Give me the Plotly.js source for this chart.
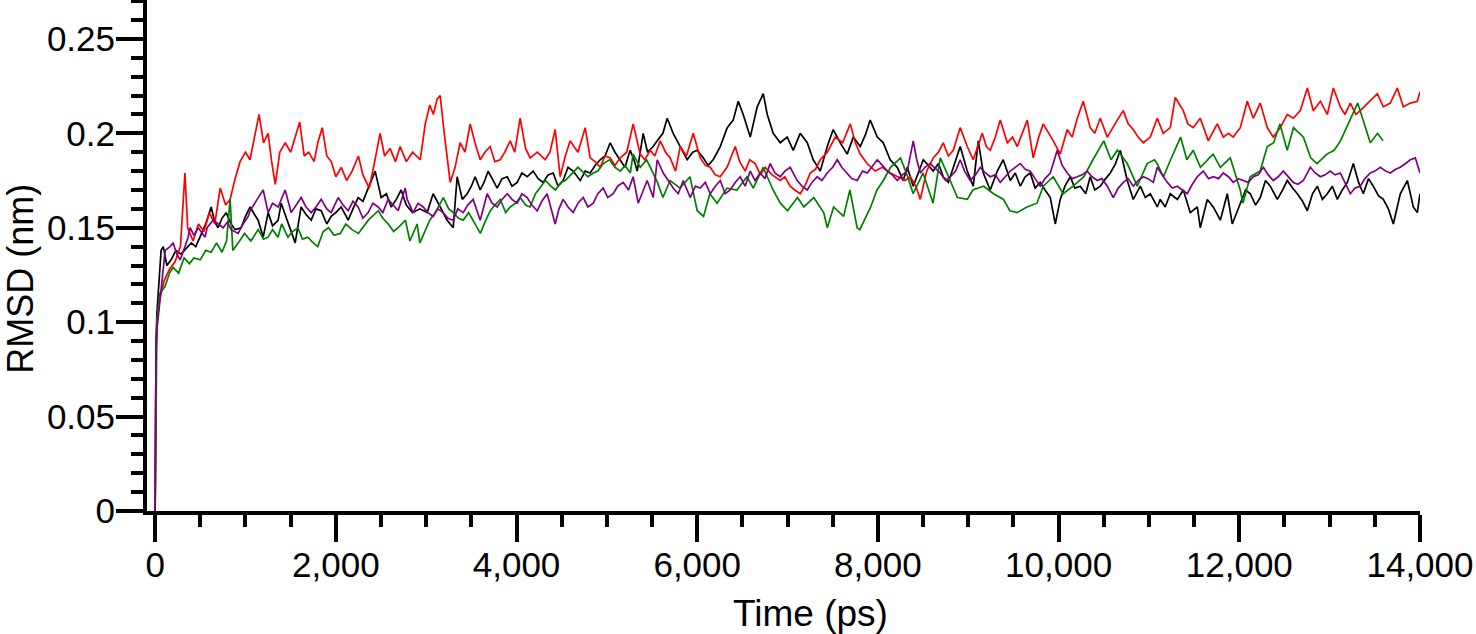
<!DOCTYPE html>
<html>
<head>
<meta charset="utf-8">
<script src="https://cdn.plot.ly/plotly-3.0.1.min.js"></script>
<style>html,body{margin:0;padding:0;background:#fff}#chart{width:1476px;height:634px}</style>
</head>
<body>
<div id="chart"></div>
<script>
const xTickVals = [0, 2000, 4000, 6000, 8000, 10000, 12000, 14000];
const yTickVals = [0, 0.05, 0.1, 0.15, 0.2, 0.25];

const tBlack = [0,10,20,40,66,90,130,177,230,288,340,399,450,509,560,620,660,697,740,786,840,886,952,1000,1052,1100,1140,1196,1251,1300,1362,1395,1472,1550,1616,1670,1727,1780,1838,1900,1948,2000,2059,2137,2190,2247,2300,2358,2435,2502,2560,2613,2670,2723,2780,2850,2930,3011,3077,3155,3232,3299,3343,3400,3454,3500,3542,3598,3640,3686,3740,3786,3840,3897,3950,4007,4060,4118,4184,4240,4295,4350,4406,4460,4516,4570,4627,4705,4760,4815,4870,4926,4980,5037,5090,5148,5200,5258,5300,5336,5402,5450,5513,5557,5620,5668,5734,5812,5889,5950,6000,6066,6120,6177,6255,6332,6398,6454,6509,6587,6664,6731,6775,6841,6919,6996,7063,7140,7218,7284,7362,7439,7505,7583,7660,7727,7804,7860,7915,7993,8059,8136,8214,8280,8325,8391,8450,8502,8560,8612,8670,8723,8780,8834,8911,8989,9055,9111,9166,9243,9321,9387,9465,9520,9576,9630,9686,9740,9797,9850,9908,9963,10018,10070,10129,10180,10240,10300,10350,10400,10461,10520,10572,10630,10683,10760,10826,10904,10960,11015,11092,11125,11180,11236,11314,11380,11457,11535,11568,11646,11712,11790,11867,11922,12011,12070,12121,12180,12232,12290,12343,12421,12480,12531,12590,12642,12700,12753,12810,12864,12920,12974,13030,13085,13140,13196,13262,13320,13373,13430,13483,13540,13594,13650,13705,13782,13860,13926,13970,14000];
const vBlack = [0,0.09,0.105,0.12,0.138,0.14,0.13,0.133,0.138,0.136,0.139,0.142,0.14,0.147,0.152,0.161,0.153,0.15,0.155,0.158,0.152,0.149,0.15,0.156,0.161,0.157,0.154,0.145,0.158,0.151,0.154,0.163,0.152,0.142,0.161,0.157,0.154,0.16,0.159,0.152,0.156,0.158,0.161,0.154,0.16,0.166,0.164,0.171,0.18,0.166,0.168,0.161,0.165,0.17,0.162,0.158,0.16,0.158,0.168,0.161,0.154,0.15,0.177,0.165,0.168,0.172,0.177,0.17,0.174,0.18,0.175,0.171,0.176,0.177,0.172,0.174,0.179,0.177,0.18,0.176,0.174,0.178,0.179,0.172,0.175,0.182,0.18,0.175,0.18,0.179,0.183,0.186,0.188,0.195,0.19,0.186,0.182,0.191,0.186,0.18,0.2,0.19,0.193,0.196,0.2,0.208,0.2,0.193,0.186,0.19,0.191,0.187,0.183,0.186,0.193,0.203,0.207,0.217,0.21,0.198,0.214,0.221,0.21,0.2,0.195,0.198,0.191,0.2,0.195,0.186,0.18,0.193,0.202,0.195,0.189,0.198,0.193,0.199,0.207,0.198,0.195,0.186,0.182,0.175,0.182,0.172,0.179,0.186,0.183,0.18,0.184,0.177,0.174,0.182,0.193,0.18,0.172,0.196,0.179,0.17,0.18,0.186,0.175,0.179,0.172,0.177,0.179,0.171,0.174,0.17,0.166,0.152,0.165,0.172,0.177,0.171,0.172,0.168,0.177,0.17,0.172,0.176,0.179,0.184,0.191,0.175,0.165,0.172,0.166,0.168,0.161,0.165,0.161,0.168,0.165,0.17,0.158,0.161,0.15,0.165,0.161,0.154,0.168,0.152,0.163,0.17,0.168,0.162,0.166,0.175,0.172,0.165,0.17,0.175,0.171,0.168,0.164,0.159,0.168,0.172,0.165,0.168,0.172,0.165,0.17,0.174,0.184,0.174,0.168,0.176,0.172,0.167,0.165,0.16,0.152,0.168,0.175,0.161,0.158,0.168];

const tRed = [0,10,20,50,100,160,220,280,330,360,420,480,540,600,660,720,780,830,880,940,1000,1050,1100,1150,1200,1250,1290,1330,1380,1440,1500,1560,1600,1650,1700,1760,1800,1850,1900,1950,2000,2060,2120,2180,2250,2300,2370,2430,2490,2540,2600,2660,2712,2780,2850,2934,2990,3040,3080,3120,3155,3200,3266,3320,3376,3430,3487,3540,3598,3650,3708,3760,3819,3870,3930,3980,4040,4100,4151,4230,4317,4370,4428,4483,4540,4594,4680,4760,4815,4870,4926,4980,5037,5090,5148,5220,5291,5369,5420,5480,5530,5591,5650,5701,5760,5812,5880,5956,6033,6090,6144,6200,6255,6330,6421,6470,6531,6580,6642,6700,6753,6830,6919,6970,7029,7080,7140,7200,7251,7310,7362,7440,7528,7610,7694,7750,7804,7880,7970,8050,8136,8220,8302,8358,8420,8469,8540,8612,8670,8723,8780,8834,8911,8989,9055,9155,9200,9243,9300,9354,9432,9490,9542,9653,9719,9780,9830,9941,10018,10096,10150,10207,10273,10350,10400,10461,10539,10649,10716,10770,10826,10880,10937,11015,11092,11158,11236,11291,11380,11430,11490,11568,11657,11700,11756,11823,11880,11933,12011,12088,12155,12232,12310,12376,12454,12531,12598,12675,12753,12819,12897,12974,13041,13118,13170,13229,13290,13339,13400,13450,13528,13594,13671,13749,13815,13893,13970,14000];
const vRed = [0,0.085,0.1,0.112,0.122,0.128,0.132,0.14,0.179,0.15,0.143,0.152,0.148,0.158,0.152,0.171,0.162,0.165,0.175,0.185,0.19,0.186,0.198,0.21,0.195,0.2,0.185,0.173,0.19,0.195,0.19,0.2,0.206,0.188,0.19,0.185,0.195,0.203,0.188,0.185,0.177,0.182,0.175,0.18,0.188,0.178,0.171,0.185,0.2,0.188,0.192,0.185,0.193,0.185,0.19,0.186,0.205,0.215,0.21,0.218,0.22,0.2,0.174,0.182,0.195,0.19,0.205,0.195,0.186,0.19,0.193,0.185,0.186,0.19,0.196,0.19,0.208,0.192,0.187,0.19,0.186,0.19,0.202,0.177,0.188,0.196,0.19,0.203,0.187,0.185,0.182,0.188,0.187,0.183,0.187,0.19,0.205,0.189,0.186,0.191,0.188,0.196,0.19,0.187,0.18,0.193,0.188,0.2,0.187,0.183,0.182,0.178,0.177,0.182,0.193,0.185,0.18,0.186,0.184,0.178,0.182,0.178,0.175,0.177,0.172,0.17,0.168,0.173,0.179,0.181,0.186,0.19,0.198,0.195,0.205,0.195,0.189,0.184,0.18,0.182,0.179,0.177,0.175,0.177,0.172,0.165,0.18,0.187,0.19,0.195,0.188,0.191,0.203,0.193,0.186,0.2,0.193,0.191,0.198,0.207,0.195,0.198,0.193,0.207,0.187,0.198,0.205,0.196,0.189,0.202,0.198,0.208,0.217,0.203,0.2,0.208,0.198,0.207,0.212,0.205,0.202,0.198,0.195,0.198,0.208,0.2,0.203,0.219,0.212,0.205,0.203,0.208,0.196,0.2,0.205,0.198,0.2,0.198,0.203,0.217,0.208,0.216,0.203,0.198,0.203,0.21,0.208,0.212,0.224,0.212,0.217,0.21,0.224,0.214,0.21,0.216,0.21,0.212,0.215,0.217,0.221,0.214,0.216,0.224,0.214,0.216,0.217,0.222];

const tGreen = [0,10,20,50,110,160,200,260,320,380,430,500,560,620,680,740,790,830,860,920,990,1060,1140,1200,1250,1300,1360,1400,1470,1520,1580,1630,1690,1750,1800,1860,1920,1980,2050,2110,2180,2250,2310,2360,2470,2520,2580,2640,2690,2770,2820,2900,2930,3040,3100,3190,3250,3300,3360,3410,3470,3540,3600,3650,3710,3760,3820,3880,3930,3990,4040,4100,4150,4210,4260,4320,4380,4430,4490,4540,4600,4680,4790,4850,4900,4960,5030,5090,5150,5200,5260,5290,5370,5440,5510,5560,5620,5700,5810,5920,6000,6070,6140,6220,6330,6440,6550,6620,6730,6840,6920,7000,7110,7180,7290,7400,7440,7510,7620,7690,7770,7800,7920,7990,8060,8140,8250,8330,8390,8500,8610,8690,8800,8880,8990,9050,9170,9280,9390,9460,9540,9650,9760,9830,9940,10050,10160,10280,10380,10500,10580,10650,10760,10870,10980,11060,11090,11160,11240,11350,11420,11490,11570,11650,11710,11790,11900,12010,12040,12120,12230,12310,12380,12450,12530,12600,12710,12790,12860,12970,13050,13120,13230,13310,13370,13450,13530,13590];
const vGreen = [0,0.07,0.1,0.115,0.119,0.126,0.129,0.126,0.134,0.131,0.134,0.133,0.138,0.137,0.142,0.137,0.143,0.165,0.138,0.142,0.147,0.143,0.149,0.144,0.145,0.149,0.145,0.152,0.145,0.148,0.15,0.144,0.145,0.142,0.14,0.148,0.15,0.146,0.147,0.152,0.149,0.147,0.151,0.154,0.159,0.155,0.152,0.148,0.15,0.154,0.143,0.152,0.142,0.154,0.158,0.166,0.16,0.158,0.155,0.154,0.158,0.152,0.147,0.153,0.159,0.162,0.165,0.158,0.161,0.163,0.166,0.162,0.161,0.168,0.171,0.175,0.172,0.17,0.174,0.175,0.178,0.182,0.177,0.179,0.18,0.184,0.186,0.182,0.18,0.183,0.179,0.189,0.182,0.186,0.179,0.174,0.166,0.175,0.171,0.177,0.159,0.156,0.168,0.163,0.171,0.17,0.177,0.171,0.182,0.17,0.163,0.159,0.166,0.161,0.166,0.158,0.15,0.161,0.156,0.17,0.15,0.149,0.161,0.17,0.175,0.182,0.187,0.177,0.168,0.179,0.163,0.187,0.175,0.166,0.165,0.17,0.172,0.168,0.165,0.159,0.158,0.161,0.163,0.172,0.177,0.168,0.172,0.177,0.186,0.196,0.186,0.191,0.184,0.172,0.184,0.186,0.184,0.177,0.186,0.198,0.186,0.191,0.182,0.186,0.189,0.182,0.187,0.17,0.163,0.177,0.18,0.193,0.195,0.205,0.191,0.203,0.198,0.187,0.184,0.189,0.191,0.196,0.208,0.216,0.207,0.195,0.2,0.196];

const tPurple = [0,10,22,55,111,166,199,240,277,330,365,387,430,476,554,575,642,700,753,800,841,919,960,1030,1052,1129,1196,1251,1300,1362,1439,1506,1560,1616,1670,1727,1780,1838,1900,1948,2026,2080,2137,2190,2247,2300,2358,2410,2469,2520,2579,2630,2690,2768,2790,2856,2910,2967,3020,3077,3130,3188,3240,3299,3350,3410,3460,3520,3598,3675,3730,3786,3840,3897,3950,4007,4060,4118,4170,4229,4280,4339,4380,4428,4470,4516,4570,4627,4680,4738,4790,4849,4900,4959,5010,5070,5120,5181,5240,5291,5347,5400,5446,5513,5557,5624,5680,5734,5790,5845,5922,5980,6033,6090,6144,6200,6255,6310,6365,6420,6476,6530,6587,6640,6697,6750,6808,6860,6919,6970,7029,7107,7160,7218,7270,7328,7380,7439,7500,7550,7600,7660,7710,7771,7830,7882,7940,7993,8050,8103,8160,8214,8270,8325,8391,8430,8469,8520,8579,8640,8690,8750,8801,8860,8911,8960,9022,9080,9133,9190,9243,9300,9354,9410,9465,9520,9576,9630,9686,9740,9797,9850,9908,9985,10040,10096,10150,10207,10260,10317,10370,10428,10480,10539,10605,10660,10716,10770,10826,10880,10937,10990,11048,11092,11150,11203,11260,11314,11370,11424,11480,11535,11601,11660,11712,11770,11823,11880,11933,11990,12044,12100,12155,12210,12266,12320,12376,12430,12487,12540,12598,12650,12709,12786,12840,12897,12950,13007,13060,13118,13170,13229,13280,13339,13390,13450,13500,13561,13620,13671,13730,13782,13840,13893,13948,14000];
const vPurple = [0,0.085,0.097,0.112,0.138,0.14,0.142,0.136,0.133,0.14,0.145,0.15,0.146,0.15,0.145,0.15,0.154,0.152,0.15,0.153,0.149,0.147,0.151,0.156,0.159,0.165,0.17,0.158,0.163,0.161,0.17,0.158,0.162,0.166,0.161,0.158,0.161,0.165,0.16,0.158,0.166,0.162,0.159,0.164,0.161,0.155,0.158,0.163,0.161,0.158,0.165,0.162,0.159,0.171,0.165,0.158,0.163,0.161,0.158,0.156,0.16,0.158,0.155,0.154,0.16,0.158,0.162,0.165,0.154,0.168,0.163,0.161,0.165,0.168,0.165,0.163,0.168,0.166,0.162,0.159,0.164,0.168,0.161,0.152,0.16,0.165,0.161,0.158,0.163,0.166,0.161,0.163,0.168,0.171,0.166,0.168,0.172,0.174,0.17,0.177,0.163,0.17,0.175,0.166,0.186,0.179,0.175,0.171,0.168,0.175,0.166,0.172,0.171,0.174,0.168,0.172,0.175,0.168,0.17,0.174,0.177,0.172,0.18,0.175,0.179,0.176,0.184,0.179,0.177,0.18,0.182,0.175,0.172,0.17,0.174,0.177,0.175,0.179,0.182,0.186,0.182,0.179,0.176,0.175,0.18,0.179,0.183,0.186,0.183,0.18,0.178,0.175,0.178,0.18,0.196,0.186,0.179,0.182,0.184,0.181,0.179,0.175,0.177,0.18,0.186,0.18,0.175,0.178,0.182,0.179,0.177,0.178,0.174,0.177,0.18,0.182,0.184,0.181,0.18,0.176,0.172,0.176,0.179,0.191,0.183,0.179,0.176,0.177,0.178,0.18,0.177,0.175,0.176,0.172,0.166,0.171,0.174,0.176,0.172,0.175,0.177,0.176,0.174,0.182,0.178,0.174,0.171,0.172,0.17,0.168,0.173,0.177,0.18,0.176,0.177,0.176,0.179,0.177,0.174,0.176,0.175,0.174,0.177,0.178,0.182,0.178,0.175,0.177,0.18,0.177,0.174,0.173,0.175,0.182,0.179,0.177,0.178,0.18,0.178,0.179,0.174,0.168,0.171,0.172,0.176,0.179,0.18,0.182,0.18,0.179,0.181,0.182,0.184,0.186,0.187,0.179];

const FONT = 'Liberation Sans, Arial, sans-serif';
function tr(x, y, color) {
  return {x: x, y: y, type: 'scatter', mode: 'lines', line: {color: color, width: 1.7}, hoverinfo: 'skip', showlegend: false};
}
const data = [
  tr(tBlack, vBlack, '#000000'),
  tr(tRed, vRed, '#ff0000'),
  tr(tGreen, vGreen, '#008000'),
  tr(tPurple, vPurple, '#800080')
];
const axisCommon = {
  showgrid: false, zeroline: false, showline: true, linecolor: '#000', linewidth: 4,
  ticks: 'outside', ticklen: 27, tickwidth: 4, tickcolor: '#000',
  tickfont: {family: FONT, size: 35, color: '#000'}
};
const layout = {
  width: 1476, height: 634,
  margin: {l: 147, r: 56, t: 0, b: 123, pad: 0},
  paper_bgcolor: '#fff', plot_bgcolor: '#fff',
  xaxis: Object.assign({}, axisCommon, {
    range: [-90, 14000], tickmode: 'array', tickvals: xTickVals,
    ticktext: xTickVals.map(v => v.toLocaleString('en-US')),
    ticklabelstandoff: -7,
    minor: {dtick: 500, tick0: 0, ticks: 'outside', ticklen: 12, tickwidth: 4, tickcolor: '#000', showgrid: false}
  }),
  yaxis: Object.assign({}, axisCommon, {
    range: [0, 0.2706], tickmode: 'array', tickvals: yTickVals,
    ticktext: yTickVals.map(v => String(v)),
    ticklabelstandoff: -6,
    minor: {dtick: 0.01, tick0: 0, ticks: 'outside', ticklen: 12, tickwidth: 4, tickcolor: '#000', showgrid: false}
  }),
  annotations: [
    {text: 'Time (ps)', xref: 'paper', yref: 'paper', x: 0.5216, y: -0.2, xanchor: 'center', yanchor: 'middle',
     showarrow: false, font: {family: FONT, size: 37, color: '#000'}},
    {text: 'RMSD (nm)', xref: 'paper', yref: 'paper', x: -0.0995, y: 0.455, xanchor: 'center', yanchor: 'middle',
     textangle: -90, borderpad: 0, showarrow: false, font: {family: FONT, size: 36, color: '#000'}}
  ]
};
Plotly.newPlot('chart', data, layout, {staticPlot: true, displayModeBar: false});
</script>
</body>
</html>
